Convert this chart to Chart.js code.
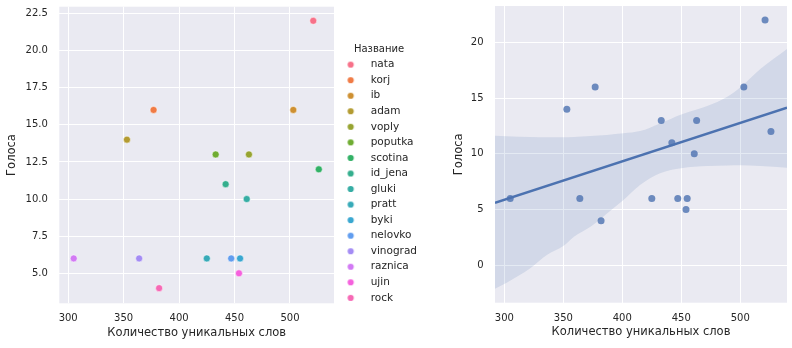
<!DOCTYPE html>
<html>
<head>
<meta charset="utf-8">
<script src="https://cdn.jsdelivr.net/npm/chart.js@4.4.0/dist/chart.umd.min.js"></script>
<style>
  html, body { margin: 0; padding: 0; background: #fff; }
  #wrap { position: relative; width: 792px; height: 348px; }
  canvas { position: absolute; top: 0; }
</style>
</head>
<body>
<div id="wrap">
  <canvas id="hueChart" width="424" height="348" style="left:0"></canvas>
  <canvas id="regChart" width="352" height="348" style="left:440px"></canvas>
</div>
<script>
const names = ['nata', 'korj', 'ib', 'adam', 'voply', 'poputka', 'scotina', 'id_jena',
  'gluki', 'pratt', 'byki', 'nelovko', 'vinograd', 'raznica', 'ujin', 'rock'];
const uniqueWords = [521, 377, 503, 353, 463, 433, 526, 442, 461, 425, 455, 447, 364, 305, 454, 382];
const votes = [22, 16, 16, 14, 13, 13, 12, 11, 10, 6, 6, 6, 6, 6, 5, 4];
const palette = ['#f77189', '#f07b45', '#ce9032', '#b39b31', '#97a431', '#6fac32', '#32b166', '#34ae8d',
  '#36ada4', '#37aab8', '#39a7d0', '#619def', '#a48cf4', '#d27af4', '#f561dd', '#f669b5'];

const xTicks = [300, 350, 400, 450, 500];
const yTicksLeft = [5, 7.5, 10, 12.5, 15, 17.5, 20, 22.5];
const yTicksRight = [0, 5, 10, 15, 20];

// fitted line and confidence band
const fitX = [292.1, 539.6];
const fitY = [5.6, 14.15];
const bandX = [292.1, 302, 322, 336, 350, 359, 373, 387, 401, 415, 432, 450, 472, 489, 500, 517, 539.6];
const bandUpper = [11.63, 11.58, 11.51, 11.49, 11.48, 11.5, 11.6, 11.7, 11.84, 12.04, 12.73, 13.54, 14.29, 15.12, 15.96, 17.6, 19.4];
const bandLower = [-2.1, -1.56, -0.27, 0.92, 1.73, 2.57, 3.46, 4.66, 5.86, 7.2, 8.25, 8.7, 8.9, 8.95, 8.97, 8.9, 8.75];

const font = 'DejaVu Sans';
const ink = '#262626';

const plotBackground = {
  id: 'plotBackground',
  beforeDraw(chart) {
    const { ctx, chartArea: a } = chart;
    ctx.save();
    ctx.fillStyle = '#eaeaf2';
    ctx.fillRect(a.left, a.top, a.width, a.height);
    ctx.restore();
  }
};

function makeScale(min, max, tickValues, digits, titleText, boxSize, isY, labelPad, titlePad) {
  return {
    type: 'linear',
    min: min,
    max: max,
    afterBuildTicks: (s) => { s.ticks = tickValues.map(v => ({ value: v })); },
    afterFit: (s) => {
      if (isY) s.width = boxSize; else s.height = boxSize;
      s.paddingTop = s.paddingBottom = s.paddingLeft = s.paddingRight = 0;
    },
    grid: { color: '#ffffff', lineWidth: 1, drawTicks: false },
    border: { display: false },
    ticks: {
      color: ink,
      font: { family: font, size: 10 },
      padding: labelPad,
      callback: (v) => v.toFixed(digits)
    },
    title: {
      display: true,
      text: titleText,
      color: ink,
      font: { family: font, size: 11.5 },
      padding: titlePad
    }
  };
}

// legend marker: a small dot, nudged left inside its image
function legendDot(color) {
  const c = document.createElement('canvas');
  c.width = 16;
  c.height = 8;
  const g = c.getContext('2d');
  g.fillStyle = color;
  g.beginPath();
  g.arc(6.45, 4, 3.1, 0, Math.PI * 2);
  g.fill();
  return c;
}
const legendDots = palette.map(legendDot);

new Chart(document.getElementById('hueChart'), {
  type: 'scatter',
  data: {
    datasets: names.map((name, i) => ({
      label: name,
      data: [{ x: uniqueWords[i], y: votes[i] }],
      backgroundColor: palette[i],
      borderColor: '#ffffff',
      borderWidth: 0.5,
      pointRadius: 3.5
    }))
  },
  options: {
    responsive: false,
    animation: false,
    layout: { padding: { top: 6.7, left: 0, right: 0, bottom: 0 } },
    scales: {
      x: makeScale(292, 539.7, xTicks, 0, 'Количество уникальных слов', 44.7, false, 9.4, { bottom: 7.9 }),
      y: makeScale(2.98, 22.95, yTicksLeft, 1, 'Голоса', 59.3, true, 11.5, { top: 5 })
    },
    plugins: {
      tooltip: { enabled: false },
      legend: {
        position: 'right',
        align: 'start',
        maxWidth: 90,
        title: {
          display: true,
          text: 'Название',
          color: ink,
          font: { family: font, size: 10, lineHeight: 1 },
          padding: { top: 37.6, bottom: 0 }
        },
        labels: {
          usePointStyle: true,
          pointStyleWidth: 26.4,
          padding: 5.05,
          color: ink,
          font: { family: font, size: 10.5 },
          generateLabels: (chart) =>
            Chart.defaults.plugins.legend.labels.generateLabels(chart)
              .map((item, i) => ({ ...item, pointStyle: legendDots[i] }))
        }
      }
    }
  },
  plugins: [plotBackground]
});

new Chart(document.getElementById('regChart'), {
  type: 'scatter',
  data: {
    datasets: [
      {
        data: bandX.map((x, i) => ({ x: x, y: bandLower[i] })),
        showLine: true,
        pointRadius: 0,
        borderWidth: 0,
        borderColor: 'rgba(0,0,0,0)',
        fill: false,
        cubicInterpolationMode: 'monotone',
        order: 2
      },
      {
        data: bandX.map((x, i) => ({ x: x, y: bandUpper[i] })),
        showLine: true,
        pointRadius: 0,
        borderWidth: 0,
        borderColor: 'rgba(0,0,0,0)',
        backgroundColor: 'rgba(76,114,176,0.15)',
        fill: '-1',
        cubicInterpolationMode: 'monotone',
        order: 2
      },
      {
        data: uniqueWords.map((x, i) => ({ x: x, y: votes[i] })),
        backgroundColor: 'rgba(76,114,176,0.8)',
        borderWidth: 0,
        pointRadius: 3.5,
        order: 1
      },
      {
        data: fitX.map((x, i) => ({ x: x, y: fitY[i] })),
        showLine: true,
        pointRadius: 0,
        borderColor: '#4c72b0',
        borderWidth: 2.5,
        order: 0
      }
    ]
  },
  options: {
    responsive: false,
    animation: false,
    layout: { padding: { top: 6, left: 0, right: 5, bottom: 0 } },
    scales: {
      x: makeScale(292.1, 539.6, xTicks, 0, 'Количество уникальных слов', 45.3, false, 9.4, { bottom: 9.2 }),
      y: makeScale(-3.35, 23.26, yTicksRight, 0, 'Голоса', 55, true, 11.5, { top: 12 })
    },
    plugins: {
      tooltip: { enabled: false },
      legend: { display: false }
    }
  },
  plugins: [plotBackground]
});
</script>
</body>
</html>
